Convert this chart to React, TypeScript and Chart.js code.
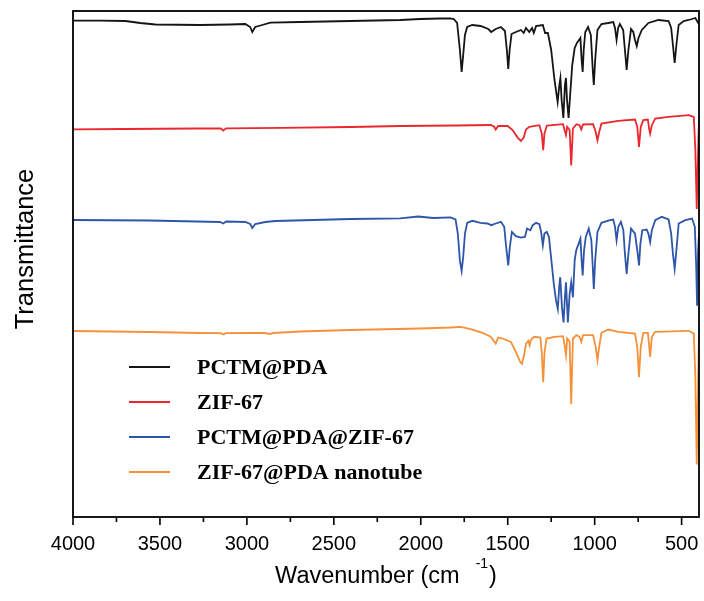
import React, { useEffect, useRef } from 'react';
import { Chart, registerables } from 'chart.js';

Chart.register(...registerables);

// ---- Axis ticks ----
const xTickValues = [4000, 3500, 3000, 2500, 2000, 1500, 1000, 500];
const xMinorTickValues = [3750, 3250, 2750, 2250, 1750, 1250, 750];

// ---- Series labels / colours ----
const seriesLabels = ['PCTM@PDA', 'ZIF-67', 'PCTM@PDA@ZIF-67', 'ZIF-67@PDA nanotube'];
const seriesColors = ['#151515', '#e8282c', '#2d55a8', '#f5913a'];

// ---- PCTM@PDA (wavenumber, transmittance a.u., stacked) ----
const pctmWn = [4000, 3843, 3699, 3613, 3527, 3268, 3096, 3009, 2981, 2969, 2952, 2912, 2865, 2693, 2405, 2118, 2003, 1888, 1831, 1811, 1791, 1775, 1765, 1756, 1746, 1733, 1704, 1656, 1612, 1595, 1569, 1539, 1516, 1505, 1497, 1489, 1478, 1453, 1424, 1408, 1395, 1376, 1360, 1350, 1337, 1298, 1285, 1269, 1250, 1231, 1213, 1203, 1197, 1190, 1180, 1171, 1165, 1159, 1150, 1141, 1129, 1115, 1102, 1090, 1082, 1075, 1069, 1063, 1054, 1038, 1022, 1011, 1005, 997, 984, 961, 922, 893, 883, 874, 865, 855, 836, 826, 816, 806, 791, 778, 768, 758, 748, 729, 691, 633, 575, 560, 550, 540, 530, 517, 488, 459, 421, 401];
const pctmT = [496.3, 496.3, 496, 494, 492.5, 492, 492.5, 493, 490, 485, 490, 492, 494.3, 495, 496, 497, 498, 498.5, 498.7, 498, 494, 467, 445, 462, 482, 490, 492, 491, 488, 485, 488, 490, 486, 467, 448, 467, 483, 485, 487, 484, 489, 485, 489, 484, 491, 492, 484, 484, 467, 437, 415, 432, 439, 417, 399, 432, 439, 417, 399, 422, 452, 469, 474, 477, 479, 457, 445, 467, 485, 490, 482, 447, 432, 457, 487, 493, 494, 495, 489, 477, 489, 493, 487, 467, 447, 467, 488, 485, 477, 471, 479, 487, 494, 497, 496, 489, 472, 454, 472, 492, 496, 497, 499, 493];

// ---- ZIF-67 ----
const zifWn = [4000, 3700, 3300, 3150, 3136, 3120, 2800, 2400, 2118, 1800, 1598, 1578, 1569, 1555, 1501, 1472, 1443, 1424, 1408, 1395, 1376, 1318, 1304, 1296, 1289, 1275, 1182, 1173, 1165, 1158, 1144, 1135, 1125, 1105, 1087, 1077, 1067, 1009, 994, 984, 974, 961, 865, 768, 755, 745, 735, 720, 694, 687, 681, 671, 652, 575, 459, 430, 421, 413, 405, 400];
const zifT = [387.7, 388, 388.5, 388.7, 386.5, 388.7, 389.2, 390, 391, 391.5, 392, 390.2, 387.5, 391, 391, 387, 379.4, 376, 379.4, 387.5, 390.2, 391.8, 383.4, 366.7, 383.4, 391.5, 392.8, 387, 382, 390.2, 387, 351.6, 388.5, 392.8, 391.8, 387.5, 392.5, 392.8, 385, 376.7, 385, 393.5, 396.2, 397.5, 390.2, 370, 390.2, 396.9, 397.5, 388.5, 383.4, 391.8, 398.5, 400.2, 401.9, 400.2, 367, 308, 367, 399];

// ---- PCTM@PDA@ZIF-67 ----
const compWn = [4000, 3560, 3155, 3136, 3119, 3009, 2981, 2969, 2952, 2894, 2837, 2405, 2118, 2015, 1928, 1829, 1800, 1787, 1775, 1765, 1756, 1746, 1733, 1704, 1656, 1618, 1594, 1569, 1539, 1520, 1509, 1497, 1488, 1476, 1453, 1424, 1401, 1389, 1370, 1356, 1337, 1318, 1308, 1298, 1289, 1275, 1263, 1250, 1235, 1222, 1212, 1204, 1198, 1188, 1179, 1171, 1165, 1159, 1154, 1144, 1135, 1125, 1115, 1106, 1092, 1082, 1075, 1069, 1061, 1051, 1034, 1019, 1011, 1005, 997, 984, 961, 913, 893, 883, 874, 864, 849, 835, 826, 816, 806, 791, 768, 755, 745, 737, 726, 701, 691, 681, 671, 652, 614, 575, 560, 550, 540, 530, 517, 479, 440, 424, 416, 411, 405, 400];
const compT = [297, 296.5, 295, 293.5, 295.5, 295, 293, 289, 293, 295, 296, 298, 298.7, 300.5, 299, 299.6, 297.5, 283.4, 256.6, 246, 260, 283.4, 294.2, 296.2, 294.2, 293.5, 291.8, 293.5, 295.2, 290.2, 270, 251.6, 270, 285.1, 280.8, 279.4, 280.1, 288.5, 286.8, 291.8, 294.2, 292.8, 285.1, 271.7, 283.4, 285.1, 280.1, 258.3, 233.1, 216.3, 208, 229.8, 239.8, 209.6, 194.5, 219.7, 234.8, 213, 194.5, 223, 234.8, 219.7, 256.6, 266.7, 273.4, 278.4, 256.6, 241.5, 266.7, 280.1, 288.5, 276.7, 250, 228.1, 256.6, 285.1, 294.2, 296.9, 297.5, 290.2, 276.7, 290.2, 295.2, 286.8, 263.3, 243.2, 263.3, 288.5, 283.4, 266.7, 251.6, 273.4, 286.8, 287.5, 283.4, 275, 286.8, 296.9, 300.2, 297.5, 283.4, 263.3, 248.2, 266.7, 293.5, 296.9, 298.5, 290.2, 250, 211.3, 266.7, 283.4];

// ---- ZIF-67@PDA nanotube ----
const tubeWn = [4000, 3560, 3268, 3150, 3136, 3120, 3000, 2900, 2866, 2850, 2693, 2405, 2003, 1831, 1771, 1713, 1646, 1598, 1569, 1555, 1530, 1482, 1453, 1428, 1418, 1404, 1395, 1381, 1374, 1366, 1347, 1312, 1304, 1296, 1289, 1277, 1231, 1182, 1173, 1165, 1158, 1144, 1135, 1125, 1105, 1087, 1077, 1067, 1009, 994, 984, 974, 961, 922, 864, 768, 755, 745, 735, 720, 694, 687, 681, 671, 652, 459, 430, 421, 413, 405, 400];
const tubeT = [186, 185, 184, 183.8, 182.5, 183.8, 184, 184, 183, 184, 185.5, 187, 188.5, 189.5, 190.2, 187.9, 184.2, 180.2, 173.4, 179.5, 178.5, 175.1, 165, 155, 153.3, 163.4, 173.4, 176.1, 171.8, 177.5, 180.2, 179.5, 163.4, 134.9, 163.4, 178.5, 180.2, 180.8, 171.8, 161.7, 178.5, 175.1, 113, 178.5, 181.8, 180.2, 175.1, 181.8, 181.8, 170.1, 156.7, 170.1, 184.2, 187.5, 185.2, 183.5, 170.1, 139.9, 170.1, 184.2, 184.2, 171.8, 160, 180.2, 185.2, 186.2, 183.5, 140, 52.6, 140, 183];

const seriesWn = [pctmWn, zifWn, compWn, tubeWn];
const seriesT = [pctmT, zifT, compT, tubeT];

const SANS = '"Liberation Sans", Arial, Helvetica, sans-serif';
const SERIF = '"Liberation Serif", "Times New Roman", Times, serif';

const decorPlugin = {
  id: 'decor',
  afterDraw(chart: any) {
    const { ctx, chartArea } = chart;
    const { left, right, top, bottom } = chartArea;
    const xs = chart.scales.x;
    ctx.save();
    // frame
    ctx.strokeStyle = '#000';
    ctx.lineWidth = 1.8;
    ctx.strokeRect(left, top, right - left, bottom - top);
    // ticks
    ctx.lineWidth = 1.6;
    ctx.beginPath();
    xTickValues.forEach((v) => {
      const px = xs.getPixelForValue(v);
      ctx.moveTo(px, bottom);
      ctx.lineTo(px, bottom + 8);
    });
    xMinorTickValues.forEach((v) => {
      const px = xs.getPixelForValue(v);
      ctx.moveTo(px, bottom);
      ctx.lineTo(px, bottom + 5);
    });
    ctx.stroke();

    // x title with superscript
    ctx.fillStyle = '#000';
    ctx.textBaseline = 'alphabetic';
    ctx.textAlign = 'left';
    const main = 'Wavenumber (cm';
    const sup = '-1';
    const close = ')';
    ctx.font = `23.5px ${SANS}`;
    const wMain = ctx.measureText(main).width;
    const wClose = ctx.measureText(close).width;
    ctx.font = `14px ${SANS}`;
    const wSup = ctx.measureText(sup).width;
    const gap = 16;
    const total = wMain + gap + wSup + 1 + wClose;
    const cx = (left + right) / 2;
    let sx = cx - total / 2;
    const baseY = bottom + 66;
    ctx.font = `23.5px ${SANS}`;
    ctx.fillText(main, sx, baseY);
    sx += wMain + gap;
    ctx.font = `14px ${SANS}`;
    ctx.fillText(sup, sx, baseY - 15);
    sx += wSup + 1;
    ctx.font = `23.5px ${SANS}`;
    ctx.fillText(close, sx, baseY);

    // y title
    ctx.save();
    ctx.translate(left - 40, top + 238);
    ctx.rotate(-Math.PI / 2);
    ctx.textAlign = 'center';
    ctx.textBaseline = 'alphabetic';
    ctx.font = `25.5px ${SANS}`;
    ctx.fillText('Transmittance', 0, 0);
    ctx.restore();

    // legend
    ctx.font = `bold 22px ${SERIF}`;
    ctx.textBaseline = 'middle';
    ctx.textAlign = 'left';
    chart.data.datasets.forEach((ds: any, i: number) => {
      const y = top + 356 + i * 35;
      ctx.strokeStyle = ds.borderColor;
      ctx.lineWidth = 2.2;
      ctx.beginPath();
      ctx.moveTo(left + 56, y);
      ctx.lineTo(left + 97, y);
      ctx.stroke();
      ctx.fillStyle = '#000';
      ctx.fillText(ds.label, left + 124, y + 1);
    });
    ctx.restore();
  },
};

export default function App() {
  const ref = useRef<HTMLCanvasElement | null>(null);
  useEffect(() => {
    if (!ref.current) return;
    const datasets = seriesLabels.map((label, i) => ({
      label,
      data: seriesWn[i].map((w, j) => ({ x: w, y: seriesT[i][j] })),
      borderColor: seriesColors[i],
      backgroundColor: seriesColors[i],
      borderWidth: 1.8,
      pointRadius: 0,
      tension: 0,
      fill: false,
    }));
    const chart = new Chart(ref.current, {
      type: 'line',
      data: { datasets },
      options: {
        animation: false,
        responsive: false,
        devicePixelRatio: 1,
        layout: { padding: { left: 0, right: 5, top: 11, bottom: 0 } },
        plugins: { legend: { display: false }, tooltip: { enabled: false } },
        scales: {
          x: {
            type: 'linear',
            reverse: true,
            min: 400,
            max: 4000,
            afterBuildTicks: (s: any) => {
              s.ticks = xTickValues.map((v) => ({ value: v }));
            },
            afterFit: (s: any) => {
              s.height = 84;
              s.paddingLeft = 0;
              s.paddingRight = 0;
            },
            grid: { display: false, drawTicks: false },
            border: { display: false },
            ticks: {
              color: '#000',
              font: { family: SANS, size: 20 },
              padding: 15,
              maxRotation: 0,
              autoSkip: false,
              callback: (v: any) => String(v),
            },
          },
          y: {
            min: 0,
            max: 506,
            afterFit: (s: any) => {
              s.width = 73;
              s.paddingTop = 0;
              s.paddingBottom = 0;
            },
            ticks: { display: false },
            grid: { display: false, drawTicks: false },
            border: { display: false },
          },
        },
      },
      plugins: [decorPlugin],
    } as any);
    return () => chart.destroy();
  }, []);
  return (
    <div style={{ position: 'absolute', left: 0, top: 0, width: 704, height: 601, background: '#fff' }}>
      <canvas ref={ref} width={704} height={601} style={{ display: 'block' }} />
    </div>
  );
}
